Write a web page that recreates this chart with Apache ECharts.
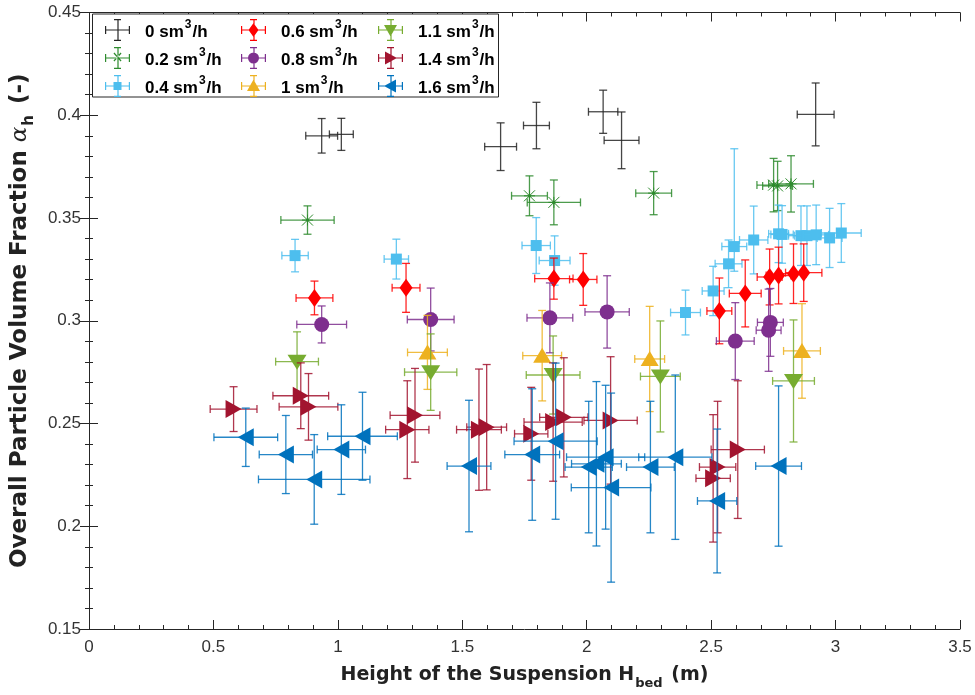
<!DOCTYPE html>
<html>
<head>
<meta charset="utf-8">
<script src="https://cdn.jsdelivr.net/npm/echarts@6/dist/echarts.min.js"></script>
<style>
  html, body { margin: 0; padding: 0; background: #fff; }
  #chart { width: 975px; height: 695px; }
</style>
</head>
<body>
<div id="chart"></div>
<script>
// each point: [x, y, xerr, yerrDown, yerrUp]
const flow0 = [
  [0.935, 0.390, 0.064, 0.0084, 0.0084],
  [1.014, 0.3907, 0.048, 0.0078, 0.0078],
  [1.654, 0.3847, 0.064, 0.0116, 0.0116],
  [1.798, 0.395, 0.052, 0.0113, 0.0113],
  [2.066, 0.4017, 0.059, 0.0105, 0.0105],
  [2.140, 0.3878, 0.070, 0.0138, 0.0138],
  [2.920, 0.4004, 0.074, 0.0153, 0.0153]
]
const flow02 = [
  [0.878, 0.349, 0.107, 0.0069, 0.0069],
  [1.770, 0.3608, 0.072, 0.0097, 0.0097],
  [1.868, 0.3576, 0.107, 0.0109, 0.0109],
  [2.269, 0.3621, 0.072, 0.0105, 0.0105],
  [2.751, 0.366, 0.067, 0.013, 0.013],
  [2.767, 0.3656, 0.06, 0.012, 0.012],
  [2.821, 0.3666, 0.09, 0.0137, 0.0137]
]
const flow04 = [
  [0.828, 0.3317, 0.053, 0.0079, 0.0079],
  [1.235, 0.330, 0.049, 0.0097, 0.0097],
  [1.797, 0.3366, 0.057, 0.0136, 0.0136],
  [1.871, 0.3293, 0.062, 0.012, 0.012],
  [2.397, 0.304, 0.06, 0.0109, 0.0109],
  [2.508, 0.3145, 0.044, 0.012, 0.012],
  [2.570, 0.3277, 0.054, 0.0116, 0.0116],
  [2.593, 0.3361, 0.05, 0.012, 0.0476],
  [2.671, 0.3393, 0.057, 0.0165, 0.0165],
  [2.771, 0.3423, 0.04, 0.014, 0.014],
  [2.785, 0.342, 0.045, 0.014, 0.014],
  [2.861, 0.3414, 0.05, 0.0145, 0.0145],
  [2.885, 0.3414, 0.05, 0.0145, 0.0145],
  [2.922, 0.3418, 0.05, 0.0145, 0.0145],
  [2.976, 0.3403, 0.05, 0.0144, 0.0144],
  [3.023, 0.3427, 0.08, 0.0143, 0.0143]
]
const flow06 = [
  [0.906, 0.3111, 0.074, 0.0082, 0.0082],
  [1.274, 0.316, 0.056, 0.0119, 0.0119],
  [1.868, 0.3205, 0.077, 0.01, 0.01],
  [1.986, 0.3201, 0.055, 0.0126, 0.0126],
  [2.533, 0.3048, 0.05, 0.016, 0.016],
  [2.637, 0.3133, 0.064, 0.0163, 0.0163],
  [2.735, 0.3213, 0.05, 0.0136, 0.0136],
  [2.771, 0.322, 0.05, 0.0138, 0.0138],
  [2.831, 0.3229, 0.05, 0.0145, 0.0145],
  [2.872, 0.3234, 0.073, 0.014, 0.014]
]
const flow08 = [
  [0.935, 0.2982, 0.10, 0.009, 0.009],
  [1.373, 0.3006, 0.094, 0.0153, 0.0153],
  [1.852, 0.3014, 0.092, 0.017, 0.017],
  [2.082, 0.3043, 0.089, 0.0176, 0.0176],
  [2.597, 0.2901, 0.076, 0.0187, 0.0187],
  [2.738, 0.2992, 0.052, 0.0165, 0.0165],
  [2.731, 0.2954, 0.05, 0.02, 0.02]
]
const flow10 = [
  [1.360, 0.2846, 0.08, 0.018, 0.018],
  [1.821, 0.283, 0.078, 0.022, 0.022],
  [2.253, 0.2814, 0.06, 0.0256, 0.0256],
  [2.865, 0.2853, 0.074, 0.023, 0.023]
]
const flow11 = [
  [0.836, 0.2801, 0.086, 0.0145, 0.0145],
  [1.373, 0.275, 0.105, 0.0186, 0.0186],
  [1.865, 0.2736, 0.108, 0.019, 0.019],
  [2.296, 0.2729, 0.08, 0.027, 0.027],
  [2.831, 0.2707, 0.084, 0.0297, 0.0297]
]
const flow14 = [
  [0.581, 0.257, 0.094, 0.0109, 0.0109],
  [0.851, 0.2635, 0.112, 0.016, 0.016],
  [0.882, 0.2581, 0.118, 0.0162, 0.0162],
  [1.310, 0.254, 0.10, 0.0228, 0.0228],
  [1.279, 0.247, 0.087, 0.0238, 0.0238],
  [1.567, 0.247, 0.09, 0.0295, 0.0295],
  [1.598, 0.2482, 0.08, 0.0305, 0.0305],
  [1.777, 0.245, 0.067, 0.0226, 0.0226],
  [1.865, 0.2507, 0.117, 0.0288, 0.0288],
  [1.908, 0.253, 0.097, 0.029, 0.029],
  [2.096, 0.2515, 0.107, 0.031, 0.031],
  [2.607, 0.2373, 0.107, 0.0335, 0.0335],
  [2.526, 0.2288, 0.073, 0.032, 0.032],
  [2.508, 0.2233, 0.069, 0.031, 0.031]
]
const flow16 = [
  [0.630, 0.2433, 0.128, 0.0142, 0.0142],
  [0.791, 0.2349, 0.107, 0.019, 0.019],
  [0.905, 0.2228, 0.224, 0.0218, 0.0218],
  [1.014, 0.2373, 0.097, 0.0218, 0.0218],
  [1.099, 0.2438, 0.14, 0.0214, 0.0214],
  [1.527, 0.2293, 0.088, 0.032, 0.032],
  [1.781, 0.2349, 0.11, 0.032, 0.032],
  [1.875, 0.2414, 0.167, 0.038, 0.038],
  [2.008, 0.2288, 0.095, 0.032, 0.032],
  [2.039, 0.2304, 0.1, 0.04, 0.04],
  [2.076, 0.2336, 0.157, 0.035, 0.035],
  [2.098, 0.2188, 0.16, 0.046, 0.046],
  [2.256, 0.2288, 0.096, 0.032, 0.032],
  [2.356, 0.2336, 0.147, 0.04, 0.04],
  [2.524, 0.2123, 0.079, 0.035, 0.035],
  [2.771, 0.2293, 0.092, 0.039, 0.039]
]

const flowNames = ['0', '0.2', '0.4', '0.6', '0.8', '1', '1.1', '1.4', '1.6']
const flowData = [flow0, flow02, flow04, flow06, flow08, flow10, flow11, flow14, flow16]
const colors = ['#262626', '#2e8b2e', '#4dbeee', '#ff0000', '#7e2f8e', '#edb120', '#77ac30', '#a2142f', '#0072bd']
const shapes = ['none', 'star', 'square', 'diamond', 'circle', 'up', 'down', 'right', 'left']

const xTicks = [0, 0.5, 1, 1.5, 2, 2.5, 3, 3.5]
const yTicks = [0.15, 0.2, 0.25, 0.3, 0.35, 0.4, 0.45]

const font = 'Liberation Sans, Arial, sans-serif'
const titleFont = 'DejaVu Sans, Verdana, sans-serif'

// legend icon: error-bar cross with the marker in the middle (25 x 22 box)
function legendIcon(shape) {
  let p = 'M0,10.4h25v1.2h-25z M12.4,0h1.2v22h-1.2z M0,7h1.2v8h-1.2z M23.8,7h1.2v8h-1.2z M9,0h7v1.2h-7z M9,20.8h7v1.2h-7z'
  const m = {
    star: ' M8.5,6.5l0.9,-0.9l7.1,8l-0.9,0.9z M16.5,6.5l-0.9,-0.9l-7.1,8l0.9,0.9z',
    square: ' M8.5,7h8v8h-8z',
    diamond: ' M12.5,4L17.5,11L12.5,18L7.5,11z',
    circle: ' M7,11a5.5,5.5 0 1,1 11,0a5.5,5.5 0 1,1 -11,0z',
    up: ' M12.5,4.5L19,16H6z',
    down: ' M6,6H19L12.5,17.5z',
    right: ' M7,4.5L19,11L7,17.5z',
    left: ' M18,4.5V17.5L6,11z'
  }
  return 'path://' + p + (m[shape] || '')
}

function markerShape(shape, cx, cy, color) {
  const fill = { fill: color }
  switch (shape) {
    case 'square':
      return [{ type: 'rect', shape: { x: cx - 5.5, y: cy - 5.5, width: 11, height: 11 }, style: fill }]
    case 'diamond':
      return [{ type: 'polygon', shape: { points: [[cx, cy - 9], [cx + 6.5, cy], [cx, cy + 9], [cx - 6.5, cy]] }, style: fill }]
    case 'circle':
      return [{ type: 'circle', shape: { cx, cy, r: 7.5 }, style: fill }]
    case 'up':
      return [{ type: 'polygon', shape: { points: [[cx, cy - 8], [cx + 9, cy + 7], [cx - 9, cy + 7]] }, style: fill }]
    case 'down':
      return [{ type: 'polygon', shape: { points: [[cx - 9.5, cy - 7], [cx + 9.5, cy - 7], [cx, cy + 8]] }, style: fill }]
    case 'right':
      return [{ type: 'polygon', shape: { points: [[cx - 8, cy - 9], [cx + 8, cy], [cx - 8, cy + 9]] }, style: fill }]
    case 'left':
      return [{ type: 'polygon', shape: { points: [[cx + 8, cy - 9], [cx + 8, cy + 9], [cx - 8, cy]] }, style: fill }]
    case 'star': {
      const st = { stroke: color, lineWidth: 1 }
      const r = 5.5
      return [
        { type: 'line', shape: { x1: cx - r, y1: cy - r, x2: cx + r, y2: cy + r }, style: st },
        { type: 'line', shape: { x1: cx - r, y1: cy + r, x2: cx + r, y2: cy - r }, style: st },
        { type: 'line', shape: { x1: cx - r, y1: cy, x2: cx + r, y2: cy }, style: st },
        { type: 'line', shape: { x1: cx, y1: cy - r, x2: cx, y2: cy + r }, style: st },
        { type: 'circle', shape: { cx, cy, r: 1.6 }, style: { fill: color } }
      ]
    }
    default:
      return []
  }
}

function makeRender(color, shape) {
  return function (params, api) {
    const x = api.value(0), y = api.value(1)
    const dx = api.value(2), dyl = api.value(3), dyh = api.value(4)
    const c = api.coord([x, y])
    const l = api.coord([x - dx, y])[0]
    const r = api.coord([x + dx, y])[0]
    const b = api.coord([x, y - dyl])[1]
    const t = api.coord([x, y + dyh])[1]
    const cap = 4
    const ls = { stroke: color, lineWidth: 1.3, opacity: 0.85 }
    const ln = (x1, y1, x2, y2) => ({ type: 'line', shape: { x1, y1, x2, y2 }, style: ls })
    const kids = [
      ln(l, c[1], r, c[1]),
      ln(c[0], t, c[0], b),
      ln(l, c[1] - cap, l, c[1] + cap),
      ln(r, c[1] - cap, r, c[1] + cap),
      ln(c[0] - cap, t, c[0] + cap, t),
      ln(c[0] - cap, b, c[0] + cap, b)
    ].concat(markerShape(shape, c[0], c[1], color))
    return { type: 'group', children: kids }
  }
}

const series = flowNames.map((name, i) => ({
  name,
  type: 'custom',
  itemStyle: { color: colors[i] },
  renderItem: makeRender(colors[i], shapes[i]),
  encode: { x: 0, y: 1 },
  data: flowData[i],
  z: 2 + i
}))

const legendText = {
  rich: {
    g: { width: 10 },
    t: { fontFamily: font, fontSize: 17, fontWeight: 'bold', color: '#000', lineHeight: 22, verticalAlign: 'bottom' },
    s: { fontFamily: font, fontSize: 12, fontWeight: 'bold', color: '#000', lineHeight: 22, verticalAlign: 'top', padding: [0, 1, 0, 1] }
  }
}

function makeLegend(names, left) {
  return {
    orient: 'vertical',
    left,
    top: 19,
    padding: 0,
    itemGap: 6,
    itemWidth: 25,
    itemHeight: 22,
    z: 60,
    selectedMode: false,
    data: names.map(n => ({ name: n, icon: legendIcon(shapes[flowNames.indexOf(n)]) })),
    formatter: n => `{g|}{t|${n} sm}{s|3}{t|/h}`,
    textStyle: legendText
  }
}

const axisCommon = {
  axisLine: { show: true, lineStyle: { color: '#262626', width: 1 } },
  axisTick: { show: true, inside: true, length: 9, lineStyle: { color: '#262626' } },
  minorTick: { show: true, splitNumber: 5, length: 4, lineStyle: { color: '#262626' } },
  splitLine: { show: false }
}

const option = {
  animation: false,
  backgroundColor: '#fff',
  grid: { left: 89, right: 15, top: 12.5, bottom: 63 },
  legend: [
    makeLegend(['0', '0.2', '0.4'], 105),
    makeLegend(['0.6', '0.8', '1'], 241),
    makeLegend(['1.1', '1.4', '1.6'], 378)
  ],
  graphic: [{
    type: 'rect',
    z: 50,
    shape: { x: 92.5, y: 14, width: 406, height: 83 },
    style: { fill: '#fff', stroke: '#262626', lineWidth: 1 }
  }],
  xAxis: [
    Object.assign({}, axisCommon, {
      type: 'value', min: xTicks[0], max: xTicks[xTicks.length - 1], interval: 0.5,
      axisLabel: { margin: 10, fontFamily: font, fontSize: 17, color: '#333', formatter: v => String(+v.toFixed(2)) },
      name: '{t|Height of the Suspension H}{sub|bed}{t| (m)}',
      nameLocation: 'middle',
      nameGap: 37,
      nameTextStyle: {
        rich: {
          t: { fontFamily: titleFont, fontSize: 19, fontWeight: 'bold', color: '#222', lineHeight: 24, verticalAlign: 'top' },
          sub: { fontFamily: titleFont, fontSize: 13, fontWeight: 'bold', color: '#222', lineHeight: 24, verticalAlign: 'bottom', padding: [0, 2, 0, 1] }
        }
      }
    }),
    Object.assign({}, axisCommon, {
      type: 'value', position: 'top', min: xTicks[0], max: xTicks[xTicks.length - 1], interval: 0.5,
      axisLabel: { show: false }
    })
  ],
  yAxis: [
    Object.assign({}, axisCommon, {
      type: 'value', min: yTicks[0], max: yTicks[yTicks.length - 1], interval: 0.05,
      axisLabel: { margin: 8, fontFamily: font, fontSize: 17, color: '#333', formatter: v => String(+v.toFixed(2)) },
      name: '{t|Overall Particle Volume Fraction }{it|α}{sub|h}{t| (-)}',
      nameLocation: 'middle',
      nameGap: 52,
      nameTextStyle: {
        rich: {
          t: { fontFamily: titleFont, fontSize: 23, fontWeight: 'bold', color: '#222', lineHeight: 28, verticalAlign: 'top' },
          it: { fontFamily: 'DejaVu Serif, serif', fontSize: 23, fontStyle: 'italic', color: '#222', lineHeight: 28, verticalAlign: 'top' },
          sub: { fontFamily: titleFont, fontSize: 15, fontWeight: 'bold', color: '#222', lineHeight: 28, verticalAlign: 'bottom', padding: [0, 3, 0, 1] }
        }
      }
    }),
    Object.assign({}, axisCommon, {
      type: 'value', position: 'right', min: yTicks[0], max: yTicks[yTicks.length - 1], interval: 0.05,
      axisLabel: { show: false }
    })
  ],
  series
}

const chart = echarts.init(document.getElementById('chart'), null, { renderer: 'canvas' })
chart.setOption(option)
</script>
</body>
</html>
